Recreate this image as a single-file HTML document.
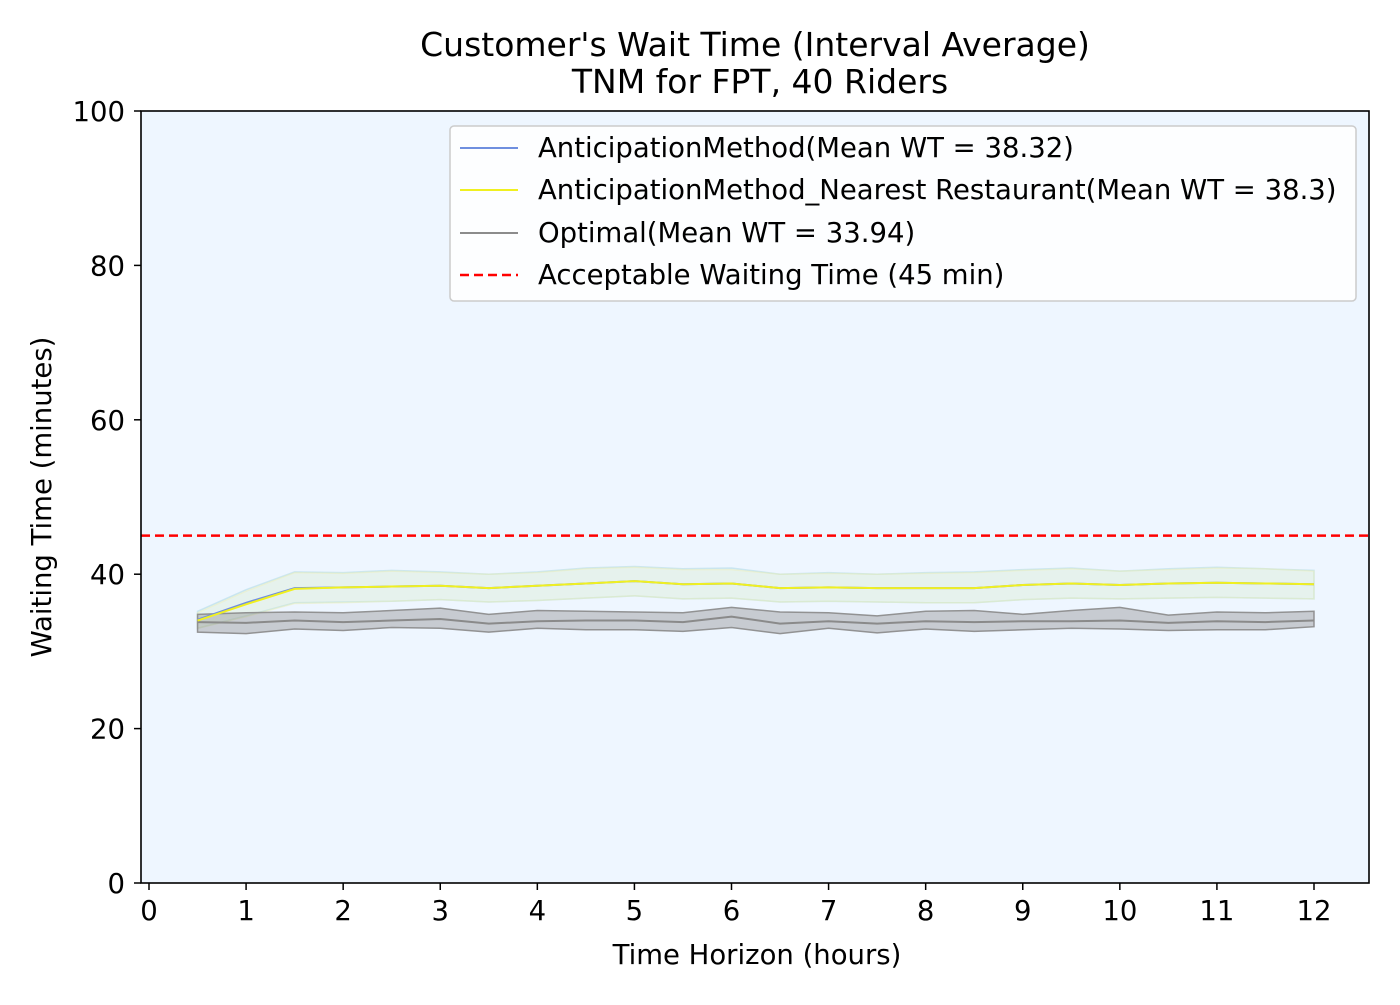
<!DOCTYPE html>
<html><head><meta charset="utf-8"><style>
body{margin:0;background:#fff;font-family:"Liberation Sans","DejaVu Sans",sans-serif}
text{font-family:"DejaVu Sans","Liberation Sans",sans-serif}
</style></head><body>
<svg id="chart" width="1400" height="1000" xmlns="http://www.w3.org/2000/svg">
<rect x="0" y="0" width="1400" height="1000" fill="#fff"/>
<rect x="141" y="111" width="1228" height="772" fill="#eef6ff"/>
<g id="marks"></g>
<g id="axes"></g>
<rect x="141" y="111" width="1228" height="772" fill="none" stroke="#000" stroke-width="1.6"/>
<text x="755" y="56" font-size="33" text-anchor="middle">Customer's Wait Time (Interval Average)</text>
<text x="760" y="93" font-size="33" text-anchor="middle">TNM for FPT, 40 Riders</text>
<text x="757" y="964" font-size="27.5" text-anchor="middle">Time Horizon (hours)</text>
<text transform="translate(51,497) rotate(-90)" font-size="27.5" text-anchor="middle">Waiting Time (minutes)</text>
<g>
<rect x="450" y="126" width="906" height="175" rx="4" fill="#fff" fill-opacity="0.85" stroke="#ccc" stroke-width="1.5"/>
<g><line x1="460" y1="148" x2="518" y2="148" stroke="#6f8fdf" stroke-width="2"/><text x="538" y="157" font-size="27.5">AnticipationMethod(Mean WT = 38.32)</text></g>
<g><line x1="460" y1="190" x2="518" y2="190" stroke="#f0f020" stroke-width="2"/><text x="538" y="199" font-size="27.5">AnticipationMethod_Nearest Restaurant(Mean WT = 38.3)</text></g>
<g><line x1="460" y1="233" x2="518" y2="233" stroke="#8c8c8c" stroke-width="2"/><text x="538" y="242" font-size="27.5">Optimal(Mean WT = 33.94)</text></g>
<g><line x1="460" y1="275" x2="518" y2="275" stroke="#f00" stroke-width="2.5" stroke-dasharray="9,5"/><text x="538" y="284" font-size="27.5">Acceptable Waiting Time (45 min)</text></g>
</g>
</svg>
<script>
const hours=[0.5,1,1.5,2,2.5,3,3.5,4,4.5,5,5.5,6,6.5,7,7.5,8,8.5,9,9.5,10,10.5,11,11.5,12];
const antMean=[34.1,36.3,38.2,38.3,38.4,38.5,38.2,38.5,38.8,39.1,38.7,38.8,38.2,38.3,38.2,38.2,38.2,38.6,38.8,38.6,38.8,38.9,38.8,38.7];
const antUpper=[35.2,38.0,40.3,40.2,40.5,40.3,40.0,40.3,40.8,41.0,40.7,40.8,40.0,40.2,40.0,40.2,40.3,40.6,40.8,40.4,40.7,40.9,40.7,40.5];
const antLower=[33.0,34.6,36.3,36.4,36.5,36.7,36.4,36.6,36.9,37.2,36.8,36.9,36.4,36.5,36.4,36.3,36.3,36.7,36.9,36.8,36.9,37.0,36.9,36.8];
const nearMean=[34.0,36.1,38.1,38.3,38.4,38.5,38.2,38.5,38.8,39.1,38.7,38.8,38.2,38.3,38.2,38.2,38.2,38.6,38.8,38.6,38.8,38.9,38.8,38.7];
const nearUpper=[35.0,37.8,40.2,40.1,40.4,40.2,40.0,40.2,40.7,40.9,40.6,40.6,40.0,40.1,40.0,40.1,40.2,40.5,40.7,40.4,40.6,40.8,40.7,40.4];
const nearLower=[33.0,34.5,36.2,36.3,36.5,36.7,36.4,36.6,36.9,37.2,36.8,36.9,36.4,36.5,36.4,36.3,36.3,36.7,36.9,36.8,36.9,37.0,36.9,36.8];
const optMean=[33.8,33.7,34.0,33.8,34.0,34.2,33.6,33.9,34.0,34.0,33.8,34.5,33.6,33.9,33.6,33.9,33.8,33.9,33.9,34.0,33.7,33.9,33.8,34.0];
const optUpper=[34.8,35.0,35.1,35.0,35.3,35.6,34.8,35.3,35.2,35.1,35.0,35.7,35.1,35.0,34.6,35.2,35.3,34.8,35.3,35.7,34.7,35.1,35.0,35.2];
const optLower=[32.5,32.3,32.9,32.7,33.1,33.0,32.5,33.0,32.8,32.8,32.6,33.1,32.3,33.0,32.4,32.9,32.6,32.8,33.0,32.9,32.7,32.8,32.8,33.2];
const acceptable=45;
const xTicks=[0,1,2,3,4,5,6,7,8,9,10,11,12];
const yTicks=[0,20,40,60,80,100];
const NS="http://www.w3.org/2000/svg";
const xs=v=>149+v*(1314-149)/12;
const ys=v=>883-v*7.72;
const marks=document.getElementById('marks'),axes=document.getElementById('axes');
function mk(tag,attrs,parent){const e=document.createElementNS(NS,tag);for(const k in attrs)e.setAttribute(k,attrs[k]);parent.appendChild(e);return e;}
function band(up,lo,fill,op,stroke,sop,name){
 let d='M'+hours.map((h,i)=>xs(h)+','+ys(up[i])).join('L')+'L'+hours.slice().reverse().map((h,j)=>{const i=hours.length-1-j;return xs(h)+','+ys(lo[i]);}).join('L')+'Z';
 const p=mk('path',{d:d,fill:fill,'fill-opacity':op,stroke:stroke,'stroke-opacity':sop,'stroke-width':1.5},marks);
 
 
}
function line(vals,color,w,name){
 const p=mk('polyline',{points:hours.map((h,i)=>xs(h)+','+ys(vals[i])).join(' '),fill:'none',stroke:color,'stroke-width':w},marks);
 
 
}
band(antUpper,antLower,'#aad8e6',0.15,'#aad8e6',0.5,'anticipation-band');
band(nearUpper,nearLower,'#f5f5a0',0.15,'#f0f0b0',0.4,'nearest-band');
band(optUpper,optLower,'#8c8c8c',0.4,'#8a8a8a',0.9,'optimal-band');
line(optMean,'#8a8a8a',2,'optimal-line');
line(antMean,'#6f8fdf',2,'anticipation-line');
line(nearMean,'#f0f020',2,'nearest-line');
const acc=mk('line',{x1:141,x2:1369,y1:ys(acceptable),y2:ys(acceptable),stroke:'#f00','stroke-width':2.5,'stroke-dasharray':'9,5'},marks);


xTicks.forEach(t=>{
 mk('line',{x1:xs(t),x2:xs(t),y1:883,y2:890,stroke:'#000','stroke-width':1.5},axes);
 const tx=mk('text',{x:xs(t),y:920,'font-size':27.5,'text-anchor':'middle'},axes);tx.textContent=t;
 
 
});
yTicks.forEach(t=>{
 mk('line',{x1:134,x2:141,y1:ys(t),y2:ys(t),stroke:'#000','stroke-width':1.5},axes);
 const tx=mk('text',{x:125,y:ys(t)+10,'font-size':27.5,'text-anchor':'end'},axes);tx.textContent=t;
 
 
});
</script>
</body></html>
